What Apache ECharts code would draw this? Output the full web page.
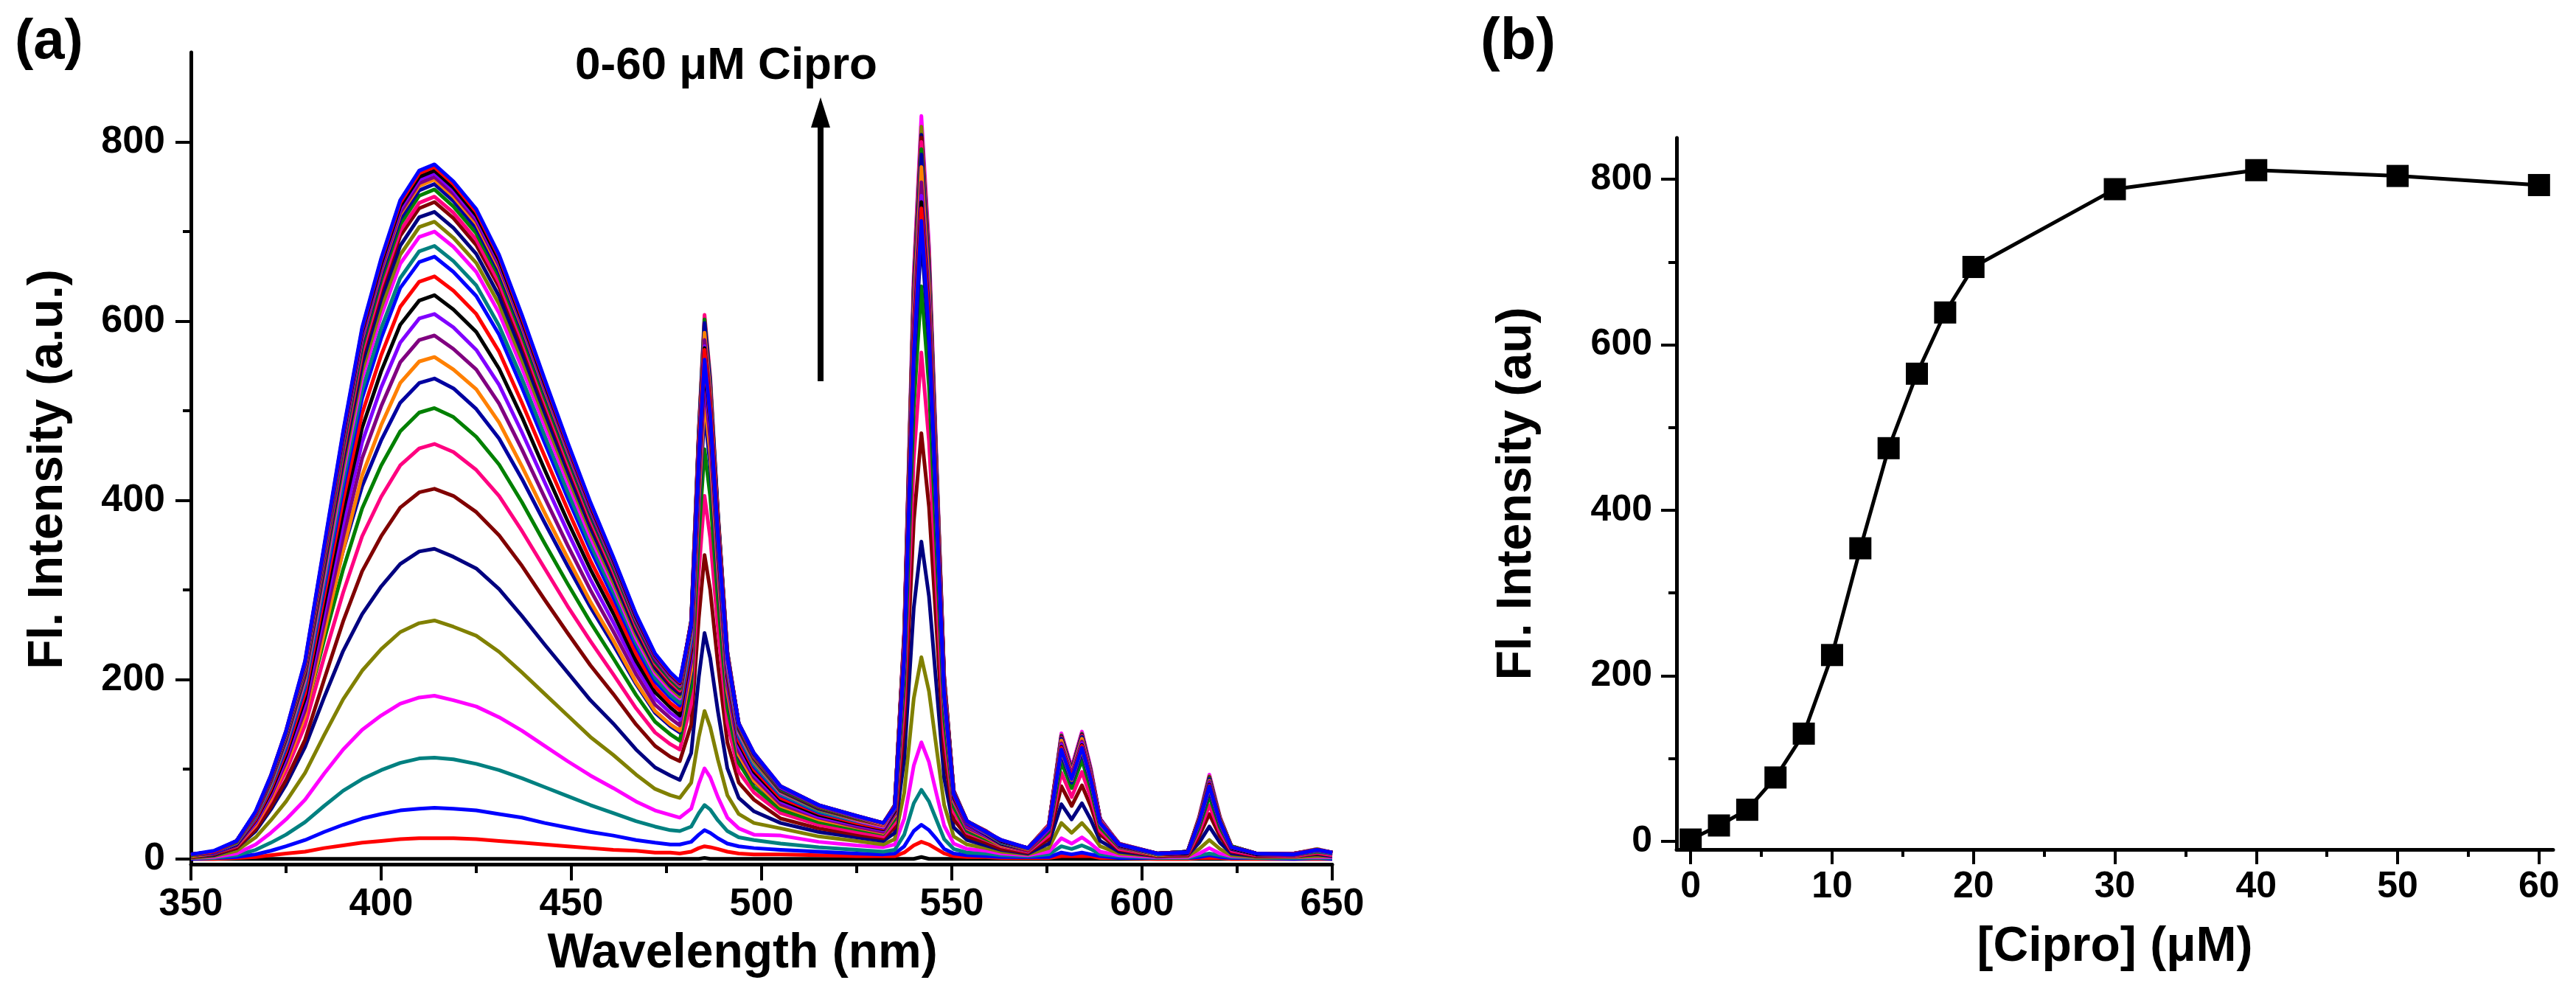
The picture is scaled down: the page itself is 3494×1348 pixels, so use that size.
<!DOCTYPE html>
<html lang="en">
<head>
    <meta charset="UTF-8">
    <title>Cipro titration - fluorescence</title>
    <script type="text/javascript" src="https://cdn.jsdelivr.net/npm/echarts@6.0.0/dist/echarts.min.js"></script>
    <style>
        html, body { margin: 0; padding: 0; background: #ffffff; }
    </style>
</head>
<body>

<div id="chart" style="width: 3494px; height: 1348px"></div>

<script>
    // ---- panel (a): emission spectra, 0-60 uM Cipro in 2 uM steps ----
    var wavelength = [350, 356, 362, 367, 371, 375, 380, 385, 390, 395, 400, 405, 410, 414, 419, 425, 431, 437, 443, 449,
        455, 461, 467, 472, 476, 478.5, 481.5, 483.5, 485, 486.5, 488.5, 491, 494, 498, 505, 515, 525, 532, 535, 537.5,
        540, 542, 544, 546, 548, 550.5, 554, 559, 563, 570, 575.5, 578.8, 581.5, 584.2, 586.5, 589, 594, 604, 612, 615,
        617.7, 620.5, 623.5, 630, 640, 646, 650];

    // intensities, one array per concentration (uM)
    var s0 = [0,0,0,0,0,0,0,0,0,0, 0,0,0,0,0,0,0,0,0,0, 0,0,0,0,0,0,
        0,0,1,0,0,0,0,0,0,0,0,0,
        0,0,0,2,0,0,0,0,0,0,0,0,
        0,0,0,0,0,0,0, 0,0,0,0,0,0,0, 0,0,0];
    var s2 = [0,0,1,2,4,6,8,12,15,18, 20,22,23,23,23,22,20,18,16,14, 12,10,9,7,7,6,
        8,12,14,13,11,8,6,5,5,4,3,3,
        3,7,15,19,16,11,6,3,2,2,1,1,
        1,3,3,3,3,1,1, 0,0,1,1,1,0,0, 0,0,0];
    var s4 = [0,1,2,5,9,14,21,30,38,45, 50,54,56,57,56,54,50,46,40,35, 30,26,21,18,16,16,
        19,27,32,29,23,17,14,12,10,8,6,5,
        6,14,31,38,32,22,11,6,4,3,2,2,
        2,7,5,7,5,3,1, 1,1,2,4,2,1,1, 0,1,0];
    var s6 = [1,1,4,10,18,27,41,59,76,89, 99,107,112,113,111,106,99,90,80,70, 60,51,42,36,32,31,
        36,51,60,55,43,31,24,21,17,13,10,8,
        10,27,62,77,64,43,22,11,7,6,4,3,
        5,14,11,15,11,5,3, 1,1,4,6,4,2,1, 1,1,1];
    var s8 = [1,2,6,16,29,44,66,95,122,144, 160,173,180,182,177,170,158,143,126,109, 93,79,64,54,49,46,
        56,84,101,91,69,46,34,27,26,19,15,13,
        16,45,104,130,108,72,37,17,11,9,6,4,
        8,23,17,24,17,8,4, 2,2,6,12,6,3,2, 2,2,2];
    var s10 = [1,3,9,24,43,64,96,138,178,210, 234,253,263,266,259,249,231,208,184,160, 136,116,94,78,71,68,
        85,136,165,147,111,71,50,40,34,25,20,16,
        22,74,179,225,187,123,60,25,16,12,8,5,
        12,40,29,40,29,14,6, 3,3,11,21,11,4,2, 2,3,3];
    var s12 = [2,4,12,31,55,83,125,180,232,273, 304,329,343,346,337,324,301,271,239,208, 177,151,122,102,93,88,
        118,203,252,224,165,101,68,53,40,30,24,20,
        29,112,280,354,293,191,90,35,21,15,10,6,
        17,61,44,62,44,20,8, 3,4,18,36,18,6,3, 3,5,3];
    var s14 = [2,5,12,33,58,88,133,200,265,321, 360,392,409,413,405,387,361,327,289,252, 216,184,150,126,114,109,
        150,269,339,300,218,130,85,66,45,34,27,23,
        35,148,376,475,393,256,118,44,25,18,11,7,
        22,81,59,82,59,27,10, 3,4,25,50,25,8,3, 3,6,4];
    var s16 = [3,6,14,37,65,98,149,225,297,360, 404,439,458,463,454,434,405,366,324,282, 243,206,168,141,128,122,
        173,320,405,358,259,152,97,74,51,38,30,25,
        40,175,446,565,466,303,139,52,29,21,14,8,
        26,96,69,97,69,31,11, 4,5,30,60,30,9,4, 3,7,4];
    var s18 = [3,6,15,40,70,107,162,244,323,391, 439,477,498,503,493,471,440,398,352,307, 264,224,183,153,139,132,
        192,359,457,404,290,169,107,80,55,41,33,28,
        44,197,504,639,527,343,157,58,31,22,15,9,
        30,108,79,110,79,35,13, 4,6,35,70,35,11,5, 4,8,6];
    var s20 = [3,6,16,42,75,114,173,260,344,416, 467,509,531,536,525,502,469,424,375,327, 281,239,195,163,148,141,
        206,390,498,439,315,182,114,86,59,44,35,29,
        47,213,548,694,574,372,171,63,33,24,15,9,
        32,117,85,119,85,38,14, 4,6,38,76,38,11,5, 4,9,6];
    var s22 = [3,6,15,38,67,104,160,252,344,428, 484,531,555,560,546,524,487,438,386,336, 287,244,197,165,150,143,
        211,402,514,453,325,187,116,87,59,44,35,29,
        48,221,568,720,595,385,177,64,34,24,15,9,
        33,121,88,123,88,39,14, 4,6,40,80,40,12,5, 4,9,6];
    var s24 = [4,6,15,40,70,108,166,263,359,447, 505,554,579,584,569,546,508,457,403,350, 300,254,206,172,157,149,
        220,416,531,468,336,194,120,91,61,46,36,30,
        50,226,582,738,610,395,182,66,35,25,16,9,
        33,124,90,126,90,40,14, 5,6,41,82,41,12,5, 4,9,6];
    var s26 = [4,7,16,41,73,112,173,274,374,465, 526,576,603,608,593,568,529,476,420,365, 312,264,214,179,163,155,
        227,425,542,478,344,199,125,94,64,47,38,32,
        52,232,594,752,622,403,186,68,37,26,17,10,
        34,127,92,129,92,40,15, 5,6,42,84,42,12,5, 5,9,6];
    var s28 = [4,7,16,43,75,116,179,283,387,481, 544,596,623,629,613,588,547,493,434,377, 323,274,221,186,169,160,
        233,432,550,486,350,204,129,97,66,49,39,33,
        53,237,606,768,635,412,189,69,38,27,17,10,
        36,129,94,131,94,41,15, 5,6,43,86,43,12,5, 5,9,6];
    var s30 = [4,7,17,44,78,120,185,293,400,497, 562,616,644,650,634,608,566,509,449,390, 333,283,229,192,174,166,
        238,438,556,491,355,208,132,100,68,51,40,34,
        55,242,617,782,646,420,193,71,38,28,18,10,
        36,132,96,134,96,43,16, 5,7,44,88,44,13,6, 5,9,6];
    var s32 = [4,7,17,46,81,124,192,302,413,514, 581,637,666,672,655,628,585,526,464,403, 345,292,237,198,180,171,
        243,444,562,498,360,213,136,103,71,52,42,35,
        56,246,628,795,657,427,196,73,39,28,18,11,
        37,135,98,137,98,43,16, 5,8,45,90,45,14,6, 5,9,6];
    var s34 = [4,8,18,47,82,127,195,308,421,523, 592,648,678,684,667,640,595,536,472,410, 351,298,241,202,183,174,
        247,449,568,502,363,215,138,105,72,53,42,36,
        57,250,639,810,669,434,200,74,41,29,18,11,
        37,137,99,139,99,44,16, 5,8,45,91,45,14,6, 5,9,6];
    var s36 = [4,8,18,48,84,130,200,315,431,536, 606,664,694,700,683,655,609,548,483,420, 359,305,246,207,188,179,
        252,456,576,510,370,219,141,108,74,55,43,36,
        58,256,654,829,685,444,204,76,41,29,19,11,
        38,140,102,142,102,45,16, 6,8,47,94,47,14,6, 6,11,7];
    var s38 = [4,8,18,48,85,132,203,320,437,544, 615,674,705,711,693,665,619,557,491,427, 365,309,250,210,191,181,
        255,463,585,518,376,223,143,109,75,55,44,37,
        59,253,645,817,675,439,203,75,42,29,19,11,
        38,138,100,140,100,44,16, 6,8,46,92,46,14,6, 6,11,7];
    var s40 = [4,8,19,49,87,134,206,325,444,552, 625,684,716,722,704,675,628,565,498,433, 370,314,254,213,193,184,
        259,470,592,524,380,226,145,112,76,56,45,38,
        58,251,638,808,668,435,201,76,42,30,19,12,
        38,137,99,139,99,44,16, 6,8,45,91,45,14,6, 6,10,7];
    var s42 = [4,8,19,50,88,136,209,330,451,561, 634,695,726,733,715,685,638,574,506,440, 376,319,258,216,196,187,
        262,475,600,530,385,229,147,113,77,57,45,38,
        59,250,636,805,665,433,201,75,41,30,20,12,
        38,136,99,138,99,44,16, 6,8,45,91,45,14,6, 6,10,7];
    var s44 = [4,8,19,50,89,137,211,333,454,565, 639,701,732,739,721,691,643,579,510,443, 379,321,260,218,198,188,
        265,480,607,538,389,231,149,114,78,58,46,38,
        59,250,632,800,662,431,200,76,42,30,20,12,
        38,135,98,137,98,43,16, 6,8,45,90,45,14,6, 6,10,7];
    var s46 = [4,8,19,51,90,138,213,336,459,571, 646,708,740,747,728,698,650,585,515,448, 383,325,263,220,200,190,
        266,477,602,533,387,231,149,115,78,58,46,39,
        60,247,625,792,655,426,198,75,42,30,20,12,
        37,134,97,136,97,43,16, 6,8,45,90,45,14,6, 6,10,7];
    var s48 = [5,8,20,51,90,139,215,339,463,576, 651,714,746,753,734,704,655,590,520,452, 386,328,265,222,202,192,
        266,476,598,530,386,231,150,116,79,59,47,39,
        60,246,622,786,650,423,197,75,42,31,20,12,
        37,134,98,136,98,44,17, 6,8,44,89,44,13,6, 6,10,7];
    var s50 = [5,8,20,52,91,140,216,341,466,580, 656,719,751,758,739,709,659,594,523,455, 389,330,267,224,203,193,
        264,468,587,521,380,229,150,116,80,59,47,39,
        59,243,611,772,638,417,194,74,42,31,20,12,
        37,132,96,134,96,43,17, 6,7,44,87,44,13,6, 6,10,7];
    var s52 = [5,8,20,52,91,141,217,342,468,582, 658,721,754,761,742,712,662,596,525,457, 390,331,268,224,204,194,
        264,463,579,513,375,228,151,116,80,59,47,40,
        59,238,597,755,624,408,191,73,41,31,20,12,
        36,129,94,131,94,42,17, 6,7,43,86,43,13,6, 6,10,7];
    var s54 = [5,8,20,52,92,142,218,344,470,585, 662,725,758,765,746,715,666,599,528,459, 392,333,269,226,205,195,
        263,458,572,507,372,227,150,117,80,60,47,40,
        58,234,586,740,613,400,187,73,42,30,20,12,
        36,127,93,129,93,42,16, 6,7,42,84,42,13,6, 5,10,7];
    var s56 = [5,8,20,52,92,142,219,346,472,588, 664,728,761,768,749,718,668,601,530,461, 394,334,270,227,206,196,
        264,457,570,507,372,227,151,117,81,60,48,40,
        59,231,579,733,606,396,186,73,42,30,20,12,
        35,125,91,127,91,41,16, 6,7,42,83,42,13,6, 5,10,7];
    var s58 = [5,8,20,52,93,143,220,347,475,591, 668,732,765,772,753,722,672,604,533,463, 396,336,272,228,207,197,
        264,456,568,505,371,227,151,118,81,60,48,40,
        59,229,575,726,601,392,184,72,42,30,21,12,
        35,124,91,126,91,41,16, 6,7,41,82,41,13,6, 5,10,7];
    var s60 = [5,9,20,53,93,143,221,349,477,593, 670,735,768,775,756,725,674,607,535,465, 398,337,273,229,208,198,
        262,449,557,495,364,225,151,118,81,60,48,40,
        58,226,564,712,589,385,182,72,42,30,21,12,
        35,122,89,124,89,40,16, 6,7,41,81,41,13,6, 5,10,7];

    var spectra = [s0, s2, s4, s6, s8, s10, s12, s14, s16, s18, s20, s22, s24, s26, s28, s30,
        s32, s34, s36, s38, s40, s42, s44, s46, s48, s50, s52, s54, s56, s58, s60];

    // ---- panel (b): peak intensity vs [Cipro] ----
    var ciproConc = [0, 2, 4, 6, 8, 10, 12, 14, 16, 18, 20, 30, 40, 50, 60];
    var peakIntensity = [2, 19, 38, 77, 130, 225, 354, 475, 565, 639, 694, 788, 811, 804, 793];

    // tick positions
    var intensityTicks = [0, 200, 400, 600, 800];
    var intensityMinorTicks = [100, 300, 500, 700];
    var concTicks = [0, 10, 20, 30, 40, 50, 60];
    var concMinorTicks = [5, 15, 25, 35, 45, 55];

    // Origin default colour increment
    var lineColors = ['#000000', '#FF0000', '#0000FF', '#008080', '#FF00FF', '#808000', '#000080',
        '#800000', '#FF0080', '#008000', '#0000A0', '#FF8000', '#800080', '#8000FF'];

    var font = "'Liberation Sans', Arial, Helvetica, sans-serif";

    function labelStyle(size, margin, values) {
        var s = {fontSize: size, fontWeight: 'bold', fontFamily: font, color: '#000', margin: margin};
        if (values) s.customValues = values;
        return s;
    }

    function nameStyle(padding) {
        return {fontSize: 66, fontWeight: 'bold', fontFamily: font, color: '#000', padding: padding || 0};
    }

    function ticks(len, values) {
        var t = {show: true, length: len, lineStyle: {color: '#000', width: 4}};
        if (values) t.customValues = values;
        return t;
    }

    var axisLine = {show: true, onZero: false, lineStyle: {color: '#000', width: 5}};
    var noLine = {show: false, onZero: false};

    var series = spectra.map(function (vals, k) {
        var s = {
            type: 'line',
            xAxisIndex: 0,
            yAxisIndex: 0,
            silent: true,
            symbol: 'none',
            data: wavelength.map(function (w, i) { return [w, vals[i]]; }),
            lineStyle: {width: 5, color: lineColors[k % lineColors.length], join: 'round'},
            itemStyle: {color: lineColors[k % lineColors.length]},
            z: 2
        };
        if (k === 0) {
            // "increasing concentration" arrow
            s.markLine = {
                silent: true,
                symbol: ['none', 'triangle'],
                symbolSize: [26, 41],
                label: {show: false},
                lineStyle: {color: '#000', width: 8, type: 'solid'},
                itemStyle: {color: '#000'},
                emphasis: {disabled: true},
                data: [[{coord: [515.5, 533]}, {coord: [515.5, 833]}]]
            };
        }
        return s;
    });

    series.push({
        type: 'line',
        xAxisIndex: 1,
        yAxisIndex: 2,
        silent: true,
        data: ciproConc.map(function (c, i) { return [c, peakIntensity[i]]; }),
        symbol: 'rect',
        symbolSize: 30,
        lineStyle: {color: '#000', width: 5},
        itemStyle: {color: '#000'},
        z: 3
    });

    var option = {
        animation: false,
        backgroundColor: '#ffffff',
        textStyle: {fontFamily: font},
        grid: [
            {left: 259, top: 71, width: 1548, height: 1101, outerBoundsMode: 'none'},
            {left: 2274, top: 187, width: 1189, height: 965, outerBoundsMode: 'none'}
        ],
        xAxis: [
            {
                gridIndex: 0, type: 'value', position: 'bottom',
                min: 350, max: 650, interval: 50,
                axisLine: axisLine,
                axisTick: ticks(22),
                minorTick: {show: true, splitNumber: 2, length: 12, lineStyle: {color: '#000', width: 4}},
                axisLabel: labelStyle(52, 29),
                splitLine: {show: false},
                name: 'Wavelength (nm)', nameLocation: 'middle', nameGap: 89,
                nameTextStyle: nameStyle([0, 52, 0, 0])
            },
            {
                gridIndex: 1, type: 'value', position: 'bottom',
                min: -1, max: 61,
                axisLine: axisLine,
                axisTick: ticks(20, concTicks),
                axisLabel: labelStyle(50, 26, concTicks),
                splitLine: {show: false},
                name: '[Cipro] (\u03BCM)', nameLocation: 'middle', nameGap: 100,
                nameTextStyle: nameStyle()
            },
            {
                gridIndex: 1, type: 'value', position: 'bottom',
                min: -1, max: 61,
                axisLine: noLine,
                axisTick: ticks(10, concMinorTicks),
                axisLabel: {show: false},
                splitLine: {show: false}
            }
        ],
        yAxis: [
            {
                gridIndex: 0, type: 'value', position: 'left',
                min: -6, max: 900,
                axisLine: axisLine,
                axisTick: ticks(21, intensityTicks),
                axisLabel: labelStyle(52, 35, intensityTicks),
                splitLine: {show: false},
                name: 'Fl. Intensity (a.u.)', nameLocation: 'middle', nameGap: 160,
                nameTextStyle: nameStyle([0, 30, 0, 0])
            },
            {
                gridIndex: 0, type: 'value', position: 'left',
                min: -6, max: 900,
                axisLine: noLine,
                axisTick: ticks(11, intensityMinorTicks),
                axisLabel: {show: false},
                splitLine: {show: false}
            },
            {
                gridIndex: 1, type: 'value', position: 'left',
                min: -10, max: 850,
                axisLine: axisLine,
                axisTick: ticks(21, intensityTicks),
                axisLabel: labelStyle(50, 33, intensityTicks),
                splitLine: {show: false},
                name: 'Fl. Intensity (au)', nameLocation: 'middle', nameGap: 183,
                nameTextStyle: nameStyle()
            },
            {
                gridIndex: 1, type: 'value', position: 'left',
                min: -10, max: 850,
                axisLine: noLine,
                axisTick: ticks(11, intensityMinorTicks),
                axisLabel: {show: false},
                splitLine: {show: false}
            }
        ],
        graphic: [
            {type: 'text', left: 20, top: 20, style: {text: '(a)', font: 'bold 76px ' + font, fill: '#000'}},
            {type: 'text', left: 2008, top: 18, style: {text: '(b)', font: 'bold 80px ' + font, fill: '#000'}},
            {type: 'text', left: 780, top: 59, style: {text: '0-60 \u03BCM Cipro', font: 'bold 62px ' + font, fill: '#000'}}
        ],
        series: series
    };

    var chart = echarts.init(document.getElementById('chart'));
    chart.setOption(option);
</script>

</body>
</html>
